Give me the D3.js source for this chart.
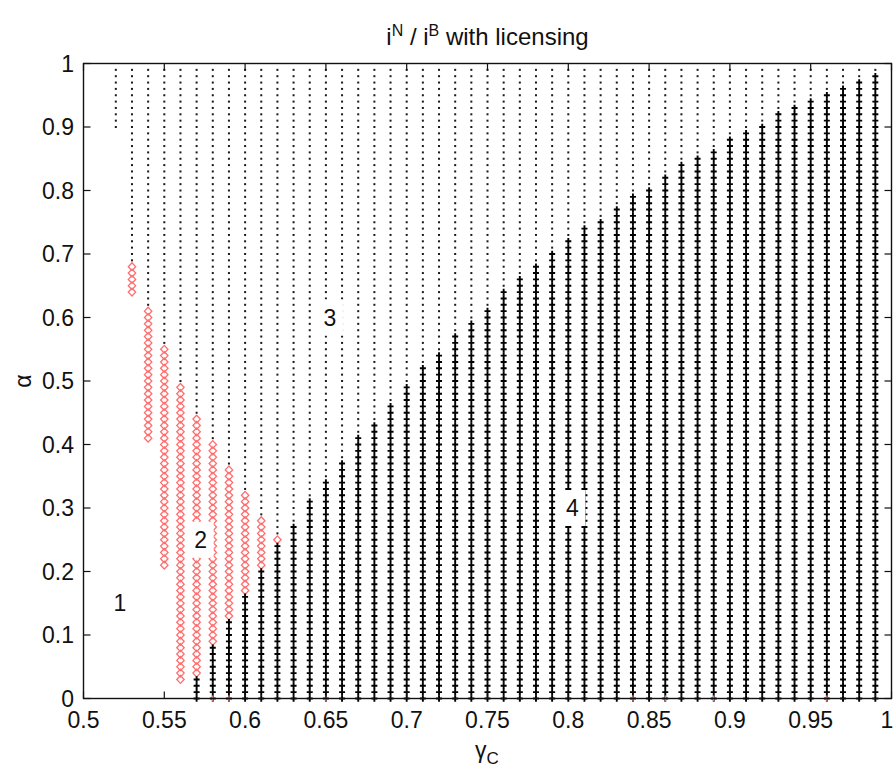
<!DOCTYPE html>
<html>
<head>
<meta charset="utf-8">
<script src="https://cdn.jsdelivr.net/npm/d3@7"></script>
<style>
  html, body { margin: 0; padding: 0; background: #fff; }
  svg { display: block; font-family: "Liberation Sans", Arial, Helvetica, sans-serif; }
</style>
</head>
<body>
<svg id="chart" width="895" height="773"></svg>
<script>
// Sampled grid columns (gamma_C)
const gammaC = [0.52, 0.53, 0.54, 0.55, 0.56, 0.57, 0.58, 0.59, 0.60, 0.61, 0.62,
  0.63, 0.64, 0.65, 0.66, 0.67, 0.68, 0.69, 0.70, 0.71, 0.72, 0.73, 0.74, 0.75, 0.76,
  0.77, 0.78, 0.79, 0.80, 0.81, 0.82, 0.83, 0.84, 0.85, 0.86, 0.87, 0.88, 0.89, 0.90,
  0.91, 0.92, 0.93, 0.94, 0.95, 0.96, 0.97, 0.98, 0.99];

// Region 4 ('+'): alpha from 0 up to plusTop (null = none in this column)
const plusTop = [null, null, null, null, null, 0.03, 0.08, 0.12, 0.16, 0.20, 0.24,
  0.27, 0.31, 0.34, 0.37, 0.41, 0.43, 0.46, 0.49, 0.52, 0.54, 0.57, 0.59, 0.61, 0.64,
  0.66, 0.68, 0.70, 0.72, 0.74, 0.75, 0.77, 0.79, 0.80, 0.82, 0.84, 0.85, 0.86, 0.88,
  0.89, 0.90, 0.92, 0.93, 0.94, 0.95, 0.96, 0.97, 0.98];

// Region 2 (diamonds): alpha range [diamondLo, diamondHi]
const diamondLo = [null, 0.64, 0.41, 0.21, 0.03, 0.04, 0.09, 0.13, 0.17, 0.21, 0.25];
const diamondHi = [null, 0.68, 0.61, 0.55, 0.49, 0.44, 0.40, 0.36, 0.32, 0.28, 0.25];

// Region 3 (dots): alpha from dotLo up to the top of the grid
const dotLo = [0.90, 0.69, 0.62, 0.56, 0.50, 0.45, 0.41, 0.37, 0.33, 0.29, 0.26,
  0.28, 0.32, 0.35, 0.38, 0.42, 0.44, 0.47, 0.50, 0.53, 0.55, 0.58, 0.60, 0.62, 0.65,
  0.67, 0.69, 0.71, 0.73, 0.75, 0.76, 0.78, 0.80, 0.81, 0.83, 0.85, 0.86, 0.87, 0.89,
  0.90, 0.91, 0.93, 0.94, 0.95, 0.96, 0.97, 0.98, 0.99];

// Columns with a region-2 point at alpha = 0
const diamondAtZero = [0.58, 0.59, 0.65, 0.84, 0.86, 0.89, 0.96];

// Region annotations
const regionText  = ["1", "2", "3", "4"];
const regionGamma = [0.5225, 0.5725, 0.6525, 0.8025];
const regionAlpha = [0.15, 0.25, 0.60, 0.30];

// Axis ticks
const xTicks = [0.5, 0.55, 0.6, 0.65, 0.7, 0.75, 0.8, 0.85, 0.9, 0.95, 1];
const xTickLabels = ["0.5", "0.55", "0.6", "0.65", "0.7", "0.75", "0.8", "0.85", "0.9", "0.95", "1"];
const yTicks = [0, 0.1, 0.2, 0.3, 0.4, 0.5, 0.6, 0.7, 0.8, 0.9, 1];
const yTickLabels = ["0", "0.1", "0.2", "0.3", "0.4", "0.5", "0.6", "0.7", "0.8", "0.9", "1"];

// alpha sampling grid, 0.00 .. 0.99 in hundredths
const alphaRows = d3.range(0, 100);

const svg = d3.select("#chart");
const plotL = 83.5, plotR = 891.5, plotT = 63.5, plotB = 698.5;
const x = d3.scaleLinear().domain([0.5, 1]).range([plotL, plotR]);
const y = d3.scaleLinear().domain([0, 1]).range([plotB, plotT]);

// Build point sets per region
const dots = [], pluses = [], diamonds = [];
gammaC.forEach((g, i) => {
  const pt = plusTop[i] == null ? -1 : Math.round(plusTop[i] * 100);
  const dl = diamondLo[i] == null ? null : Math.round(diamondLo[i] * 100);
  const dh = diamondHi[i] == null ? null : Math.round(diamondHi[i] * 100);
  const ol = Math.round(dotLo[i] * 100);
  alphaRows.forEach(k => {
    const a = k / 100;
    if (k <= pt) pluses.push([g, a]);
    else if (dl != null && k >= dl && k <= dh) diamonds.push([g, a]);
    else if (k >= ol) dots.push([g, a]);
  });
});

// Region 3: small dots
svg.append("g").selectAll("rect").data(dots).join("rect")
  .attr("x", d => x(d[0]) - 1)
  .attr("y", d => y(d[1]) - 1)
  .attr("width", 2).attr("height", 2)
  .attr("fill", "#1a1a1a");

// Region 2: diamonds
const dmw = 3.7, dmh = 3.9;
svg.append("g").selectAll("path").data(diamonds).join("path")
  .attr("d", d => {
    const cx = x(d[0]), cy = y(d[1]);
    return `M${cx},${cy - dmh}L${cx + dmw},${cy}L${cx},${cy + dmh}L${cx - dmw},${cy}Z`;
  })
  .attr("fill", "none")
  .attr("stroke", "#ff6e6e")
  .attr("stroke-width", 1.3);

// Region 4: plus markers
const ph = 3.3, pw = 3.0;
svg.append("g").selectAll("path").data(pluses).join("path")
  .attr("d", d => {
    const cx = x(d[0]), cy = y(d[1]);
    return `M${cx - pw},${cy}H${cx + pw}M${cx},${cy - ph}V${cy + ph}`;
  })
  .attr("stroke", "#000")
  .attr("stroke-width", 1.9)
  .attr("fill", "none");

// Region 2 points at alpha = 0 (mostly hidden under the axis)
svg.append("g").selectAll("line").data(diamondAtZero).join("line")
  .attr("x1", d => x(d)).attr("x2", d => x(d))
  .attr("y1", y(0) - 3).attr("y2", y(0) + 3)
  .attr("stroke", "#ff8a8a").attr("stroke-width", 1.2);

// Region annotations with white background
const ann = svg.append("g");
regionText.forEach((t, i) => {
  const cx = x(regionGamma[i]), cy = y(regionAlpha[i]);
  ann.append("rect")
    .attr("x", cx - 10).attr("y", cy - 18)
    .attr("width", 23).attr("height", 36)
    .attr("fill", "#fff");
  ann.append("text")
    .attr("x", cx).attr("y", cy)
    .attr("text-anchor", "middle")
    .attr("dominant-baseline", "central")
    .attr("font-size", 23)
    .attr("fill", "#111")
    .text(t);
});

// Axes frame and ticks
const axisStroke = "#111";
svg.append("rect")
  .attr("x", plotL).attr("y", plotT)
  .attr("width", plotR - plotL).attr("height", plotB - plotT)
  .attr("fill", "none").attr("stroke", axisStroke).attr("stroke-width", 1.4);

const tl = 7;
const tickG = svg.append("g").attr("stroke", axisStroke).attr("stroke-width", 1.2);
xTicks.forEach(v => {
  tickG.append("line").attr("x1", x(v)).attr("x2", x(v)).attr("y1", plotB).attr("y2", plotB - tl);
  tickG.append("line").attr("x1", x(v)).attr("x2", x(v)).attr("y1", plotT).attr("y2", plotT + tl);
});
yTicks.forEach(v => {
  tickG.append("line").attr("x1", plotL).attr("x2", plotL + tl).attr("y1", y(v)).attr("y2", y(v));
  tickG.append("line").attr("x1", plotR).attr("x2", plotR - tl).attr("y1", y(v)).attr("y2", y(v));
});

// Tick labels (the last one is kept inside the page edge)
svg.append("g").selectAll("text").data(xTicks).join("text")
  .attr("x", d => Math.min(x(d), 887))
  .attr("y", 728)
  .attr("text-anchor", "middle")
  .attr("font-size", 23)
  .attr("fill", "#111")
  .text((d, i) => xTickLabels[i]);

svg.append("g").selectAll("text").data(yTicks).join("text")
  .attr("x", 74)
  .attr("y", d => y(d))
  .attr("text-anchor", "end")
  .attr("dominant-baseline", "central")
  .attr("font-size", 23)
  .attr("fill", "#111")
  .text((d, i) => yTickLabels[i]);

// Title
const title = svg.append("text")
  .attr("x", (plotL + plotR) / 2)
  .attr("y", 45)
  .attr("text-anchor", "middle")
  .attr("font-size", 24)
  .attr("fill", "#111");
title.append("tspan").text("i");
title.append("tspan").attr("dy", -9).attr("font-size", 16).text("N");
title.append("tspan").attr("dy", 9).text(" / i");
title.append("tspan").attr("dy", -9).attr("font-size", 16).text("B");
title.append("tspan").attr("dy", 9).text(" with licensing");

// Axis labels
const xl = svg.append("text")
  .attr("x", 487).attr("y", 758)
  .attr("text-anchor", "middle")
  .attr("font-size", 23)
  .attr("fill", "#111");
xl.append("tspan").text("γ");
xl.append("tspan").attr("dy", 6).attr("font-size", 17).text("C");

svg.append("text")
  .attr("transform", "translate(31,381) rotate(-90)")
  .attr("text-anchor", "middle")
  .attr("font-size", 23)
  .attr("fill", "#111")
  .text("α");
</script>
</body>
</html>
